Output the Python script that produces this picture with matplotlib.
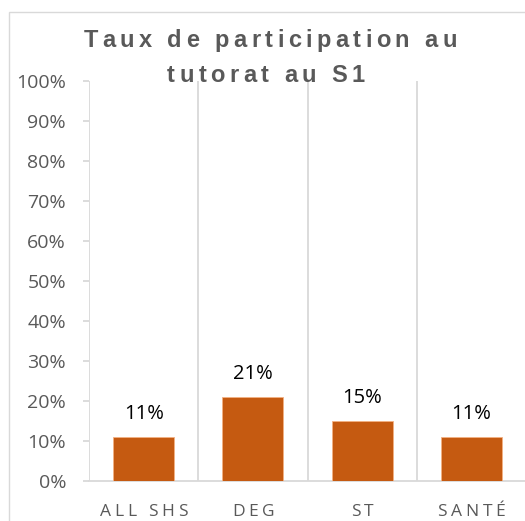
import matplotlib
matplotlib.use("Agg")
import matplotlib.pyplot as plt
from matplotlib.patches import Rectangle
from matplotlib.ticker import MultipleLocator, FuncFormatter
from matplotlib.font_manager import FontProperties

categories = ["ALL SHS", "DEG", "ST", "SANTÉ"]
participation = [11, 21, 15, 11]
title_lines = ["Taux de participation au", "tutorat au S1"]

BAR = "#C55A11"
GRID = "#D9D9D9"
TXT = "#595959"

W, H = 525, 521
fig = plt.figure(figsize=(W / 100, H / 100), dpi=100)
renderer = fig.canvas.get_renderer()


def spaced_text(cx, baseline, s, fp, tracking, color):
    """Draw s centred on pixel column cx with extra letter spacing (px)."""
    widths = []
    for ch in s:
        if ch == " ":
            w = renderer.get_text_width_height_descent("a a", fp, ismath=False)[0] \
                - renderer.get_text_width_height_descent("aa", fp, ismath=False)[0]
        else:
            w = renderer.get_text_width_height_descent(ch, fp, ismath=False)[0]
        widths.append(w)
    total = sum(widths) + tracking * (len(s) - 1)
    x0 = cx - total / 2
    for ch, w in zip(s, widths):
        if ch != " ":
            fig.text(x0 / W, 1 - baseline / H, ch, fontproperties=fp,
                     color=color, ha="left", va="baseline")
        x0 += w + tracking


# chart frame
fig.patches.append(Rectangle((9 / W, -0.1), 1.2, 1 - 12 / H + 0.1,
                             transform=fig.transFigure, fill=False,
                             edgecolor=GRID, linewidth=1.0))

ax = fig.add_axes([89 / W, 1 - 481 / H, 1 - 89 / W + 0.002, 400 / H])
x = list(range(len(categories)))
ax.bar(x, participation, width=0.56, color=BAR, edgecolor="#F4B183",
       linewidth=0.6, zorder=3)
for xi, v in zip(x, participation):
    ax.text(xi, v + 4.6, f"{v}%", ha="center", va="baseline",
            fontsize=14.5, color="black", family="Open Sans")

ax.set_xlim(-0.5, len(categories) - 0.5)
ax.set_ylim(0, 100)
ax.yaxis.set_major_locator(MultipleLocator(10))
ax.yaxis.set_major_formatter(FuncFormatter(lambda v, p: f"{v:.0f}%"))

# vertical separators between categories
for b in range(len(categories) + 1):
    ax.axvline(b - 0.5, color=GRID, linewidth=1.3, zorder=1)

for s in ["top", "right", "left"]:
    ax.spines[s].set_visible(False)
ax.spines["bottom"].set_color(GRID)
ax.spines["bottom"].set_linewidth(1.3)

ax.tick_params(axis="y", length=4.5, width=1.3, color=GRID, labelcolor=TXT,
               labelsize=14, pad=12)
ax.set_xticks(x)
ax.set_xticklabels([])
ax.tick_params(axis="x", length=0)
for lab in ax.get_yticklabels():
    lab.set_family("Open Sans")

# category labels with wide tracking
cat_fp = FontProperties(family="Open Sans", size=12.5)
for xi, c in zip(x, categories):
    px = ax.transData.transform((xi, 0))[0]
    spaced_text(px, 516, c, cat_fp, 3.7, TXT)

# title
title_fp = FontProperties(family=["Liberation Sans", "DejaVu Sans"],
                          size=17, weight="bold")
spaced_text(270, 47, title_lines[0], title_fp, 4.4, TXT)
spaced_text(266, 82, title_lines[1], title_fp, 4.4, TXT)

fig.savefig("out.png", dpi=100)
